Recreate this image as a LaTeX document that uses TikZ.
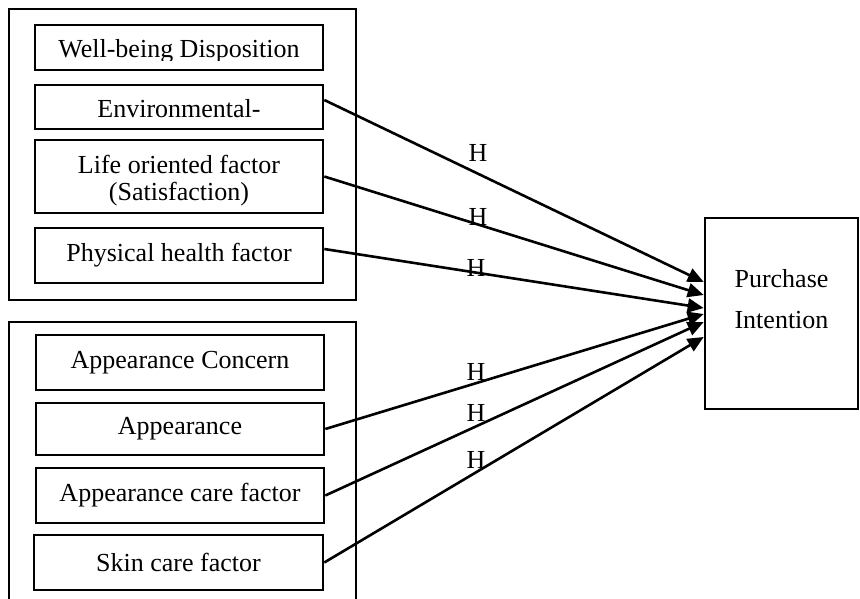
\documentclass[tikz,border=0pt]{standalone}
\usepackage{fontspec}
\setmainfont{Liberation Serif}
\usetikzlibrary{arrows.meta}
\begin{document}
\begin{tikzpicture}[x=1pt,y=-1pt,
  lw/.style={line width=2.6pt},
  inbox/.style={draw,lw,inner sep=0pt,minimum width=288pt,align=center,font=\fontsize{26}{27}\selectfont},
  frame/.style={draw,lw,inner sep=0pt},
  lab/.style={inner sep=0pt,align=center,font=\fontsize{26}{27}\selectfont},
  arr/.style={lw,-{Triangle[length=16pt,width=14pt]}}]
\useasboundingbox (0,0) rectangle (860,599);
% outer frames
\node[frame,minimum width=347pt,minimum height=291pt] (g1) at (182.5,154.5) {};
\draw[lw] (9,605) coordinate (g2bl) -- (9,322) -- (356,322) -- (356,605) coordinate (g2br);
% group 1
\node[inbox,minimum height=45pt] (wb) at (179,47.5) {};
\begin{scope}
\clip (30,20) rectangle (330,60.5);
\node[lab,anchor=base] (wbt) at (179,58) {Well-being Disposition};
\end{scope}
\node[inbox,minimum height=44pt] (env) at (179,107) {};
\node[lab,anchor=base] (envt) at (179,118) {Environmental-};
\node[inbox,minimum height=73pt] (life) at (179,176.5) {};
\node[lab] (lifet) at ([yshift=-4pt]life.center) {Life oriented factor\\(Satisfaction)};
\node[inbox,minimum height=55pt] (phys) at (179,255.5) {Physical health factor};
% group 2
\node[inbox,minimum height=55pt] (ac) at (180,362.5) {Appearance Concern};
\node[inbox,minimum height=52pt] (app) at (180,429) {Appearance};
\node[inbox,minimum height=55pt] (acf) at (180,495.5) {Appearance care factor};
\node[inbox,minimum width=289pt,minimum height=55pt] (skin) at (178.5,562.5) {Skin care factor};
% target
\node[frame,minimum width=153pt,minimum height=191pt] (pi) at (781.5,313.5) {};
\node[align=center,inner sep=0pt,font=\fontsize{26}{41}\selectfont] (pit) at ([yshift=14pt]pi.center) {Purchase\\Intention};
% arrows
\draw[arr] ([yshift=7pt]env.east) -- ([yshift=31.5pt]pi.west);
\draw[arr] (life.east) -- ([yshift=18.5pt]pi.west);
\draw[arr] ([yshift=6.5pt]phys.east) -- ([yshift=5.5pt]pi.west);
\draw[arr] (app.east) -- ([yshift=-0.5pt]pi.west);
\draw[arr] (acf.east) -- ([yshift=-8.5pt]pi.west);
\draw[arr] (skin.east) -- ([yshift=-23.5pt]pi.west);
% labels
\node[lab] (h1) at (478,153) {H};
\node[lab] (h2) at (478,217) {H};
\node[lab] (h3) at (476,268) {H};
\node[lab] (h4) at (476,372) {H};
\node[lab] (h5) at (476,413) {H};
\node[lab] (h6) at (476,460) {H};
\end{tikzpicture}
\end{document}
